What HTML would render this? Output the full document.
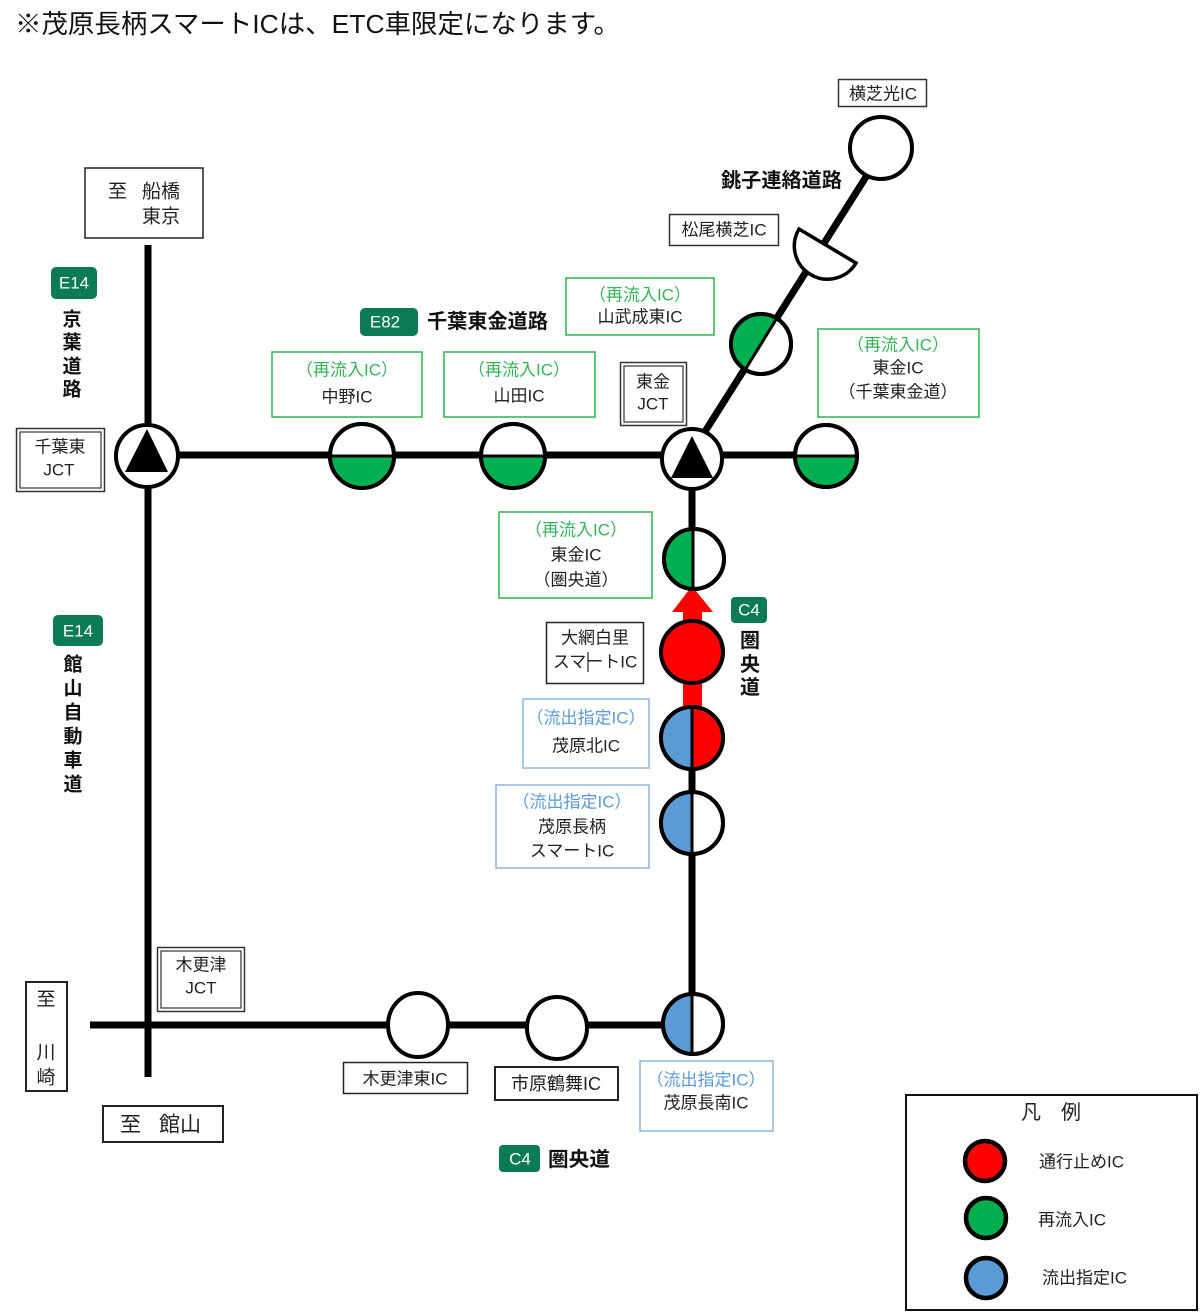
<!DOCTYPE html>
<html><head><meta charset="utf-8"><style>
html,body{margin:0;padding:0;background:#fff;}
svg{display:block;}
text{font-family:"Liberation Sans","Noto Sans CJK JP",sans-serif;}
</style></head><body>
<svg width="1200" height="1313" viewBox="0 0 1200 1313" xmlns="http://www.w3.org/2000/svg">
<rect width="1200" height="1313" fill="#fff"/>

<!-- header -->
<text x="15" y="24" font-size="26" dominant-baseline="central" fill="#111" textLength="605" lengthAdjust="spacingAndGlyphs">※茂原長柄スマートICは、ETC車限定になります。</text>

<!-- roads -->
<g stroke="#000" stroke-width="7" fill="none">
  <line x1="148" y1="245" x2="148" y2="1077"/>
  <line x1="148" y1="455" x2="826" y2="455"/>
  <line x1="692" y1="455" x2="692" y2="1025"/>
  <line x1="90" y1="1025" x2="692" y2="1025"/>
  <line x1="687" y1="460" x2="883" y2="150"/>
</g>

<!-- red arrow -->
<rect x="683" y="605" width="19" height="110" fill="#ff0000"/>
<polygon points="672,612 713,612 692,586" fill="#ff0000"/>

<!-- circles -->
<g stroke="#000" stroke-width="4">
  <circle cx="147" cy="456" r="31" fill="#fff"/>
  <circle cx="362" cy="456" r="32" fill="#fff"/>
  <circle cx="513" cy="456" r="32" fill="#fff"/>
  <circle cx="692" cy="459" r="30" fill="#fff"/>
  <circle cx="826" cy="456" r="31" fill="#fff"/>
  <circle cx="761" cy="344" r="30" fill="#fff"/>
  <circle cx="881" cy="148" r="31" fill="#fff"/>
  <circle cx="694" cy="559" r="30" fill="#fff"/>
  <circle cx="692" cy="652" r="31" fill="#ff0000"/>
  <circle cx="692" cy="738" r="31" fill="#fff"/>
  <circle cx="692" cy="823" r="31" fill="#fff"/>
  <ellipse cx="418" cy="1025" rx="30" ry="32" fill="#fff"/>
  <ellipse cx="557" cy="1028" rx="30" ry="31" fill="#fff"/>
  <ellipse cx="693" cy="1024" rx="30" ry="30" fill="#fff"/>
</g>

<!-- half fills -->
<g stroke="none">
  <path d="M332 456 A30 30 0 0 0 392 456 Z" fill="#00b050"/>
  <path d="M483 456 A30 30 0 0 0 543 456 Z" fill="#00b050"/>
  <path d="M796 456 A29 29 0 0 0 856 456 Z" fill="#00b050"/>
  <path d="M776.7 318.7 A29 29 0 0 0 745.3 369.3 Z" fill="#00b050"/>
  <path d="M693 531 A28 28 0 0 0 693 587 Z" fill="#00b050"/>
  <path d="M692 709 A29 29 0 0 0 692 767 Z" fill="#5b9bd5"/>
  <path d="M692 709 A29 29 0 0 1 692 767 Z" fill="#ff0000"/>
  <path d="M692 794 A29 29 0 0 0 692 852 Z" fill="#5b9bd5"/>
  <path d="M692 996 A28 28 0 0 0 692 1052 Z" fill="#5b9bd5"/>
</g>
<g stroke="#000" fill="none">
  <line x1="331" y1="456" x2="393" y2="456" stroke-width="3"/>
  <line x1="482" y1="456" x2="544" y2="456" stroke-width="3"/>
  <line x1="795" y1="456" x2="857" y2="456" stroke-width="3"/>
  <line x1="777" y1="318" x2="745" y2="370" stroke-width="3"/>
  <line x1="693" y1="529" x2="693" y2="589" stroke-width="3"/>
  <line x1="692" y1="707" x2="692" y2="769" stroke-width="3"/>
  <line x1="692" y1="792" x2="692" y2="854" stroke-width="3"/>
  <line x1="692" y1="994" x2="692" y2="1054" stroke-width="3"/>
  <circle cx="362" cy="456" r="32" stroke-width="4"/>
  <circle cx="513" cy="456" r="32" stroke-width="4"/>
  <circle cx="826" cy="456" r="31" stroke-width="4"/>
  <circle cx="761" cy="344" r="30" stroke-width="4"/>
  <circle cx="694" cy="559" r="30" stroke-width="4"/>
  <circle cx="692" cy="738" r="31" stroke-width="4"/>
  <circle cx="692" cy="823" r="31" stroke-width="4"/>
  <ellipse cx="693" cy="1024" rx="30" ry="30" stroke-width="4"/>
</g>

<!-- Matsuo Yokoshiba semicircle -->
<path d="M856 263 A33 33 0 0 1 799 229 Z" fill="#fff" stroke="#000" stroke-width="3.5"/>

<!-- JCT triangles -->
<polygon points="147,429 125,472 168,472" fill="#000"/>
<polygon points="692,436 671,478 713,478" fill="#000"/>

<!-- boxes -->
<g fill="none">
  <rect x="85" y="168" width="118" height="70" stroke="#222" stroke-width="1.5"/>
  <rect x="16.5" y="428.5" width="88" height="63" stroke="#333" stroke-width="1.5"/>
  <rect x="20" y="432" width="81" height="56" stroke="#333" stroke-width="1.2"/>
  <rect x="620.5" y="362.5" width="66" height="63" stroke="#333" stroke-width="1.5"/>
  <rect x="624" y="366" width="59" height="56" stroke="#333" stroke-width="1.2"/>
  <rect x="157.5" y="947.5" width="87" height="64" stroke="#333" stroke-width="1.5"/>
  <rect x="161" y="951" width="80" height="57" stroke="#333" stroke-width="1.2"/>
  <rect x="272" y="352" width="150" height="65" stroke="#2db34a" stroke-width="1.5"/>
  <rect x="444" y="352" width="151" height="65" stroke="#2db34a" stroke-width="1.5"/>
  <rect x="566" y="278" width="148" height="57" stroke="#2db34a" stroke-width="1.5"/>
  <rect x="818" y="329" width="161" height="88" stroke="#2db34a" stroke-width="1.5"/>
  <rect x="499" y="512" width="153" height="86" stroke="#2db34a" stroke-width="1.5"/>
  <rect x="523" y="699" width="126" height="69" stroke="#8db4e2" stroke-width="1.5"/>
  <rect x="496" y="785" width="153" height="83" stroke="#8db4e2" stroke-width="1.5"/>
  <rect x="640" y="1061" width="133" height="70" stroke="#8db4e2" stroke-width="1.5"/>
  <rect x="838.5" y="79.5" width="88" height="27" stroke="#333" stroke-width="1.5"/>
  <rect x="669.5" y="214.5" width="109" height="31" stroke="#333" stroke-width="1.5"/>
  <rect x="546.5" y="622.5" width="97" height="61" stroke="#222" stroke-width="1.5"/>
  <rect x="26" y="982" width="41" height="109" stroke="#222" stroke-width="2"/>
  <rect x="103" y="1106" width="120" height="36" stroke="#222" stroke-width="2"/>
  <rect x="343.5" y="1062.5" width="124" height="31" stroke="#222" stroke-width="1.5"/>
  <rect x="495" y="1067" width="123" height="33" stroke="#222" stroke-width="2"/>
  <rect x="906" y="1095" width="291" height="215" stroke="#111" stroke-width="2"/>
</g>

<!-- badges -->
<g fill="#0b7a57">
  <rect x="51" y="267" width="46" height="32" rx="5"/>
  <rect x="53" y="615" width="50" height="31" rx="5"/>
  <rect x="360" y="308" width="58" height="28" rx="5"/>
  <rect x="731" y="597" width="36" height="26" rx="4"/>
  <rect x="499" y="1145" width="41" height="27" rx="4"/>
</g>
<g fill="#fff" font-size="17" text-anchor="middle" dominant-baseline="central">
  <text x="74" y="283">E14</text>
  <text x="78" y="631">E14</text>
  <text x="385" y="322">E82</text>
  <text x="749" y="610">C4</text>
  <text x="520" y="1159">C4</text>
</g>

<!-- road name texts (bold) -->
<g fill="#111" font-weight="bold" dominant-baseline="central">
  <text x="427" y="322" font-size="20" textLength="121" lengthAdjust="spacingAndGlyphs">千葉東金道路</text>
  <text x="721" y="181" font-size="20" textLength="121" lengthAdjust="spacingAndGlyphs">銚子連絡道路</text>
  <text x="548" y="1160" font-size="20" textLength="62" lengthAdjust="spacingAndGlyphs">圏央道</text>
  <g text-anchor="middle" font-size="19">
    <text x="72" y="320">京</text>
    <text x="72" y="343">葉</text>
    <text x="72" y="367">道</text>
    <text x="72" y="390">路</text>
    <text x="73" y="665">館</text>
    <text x="73" y="689">山</text>
    <text x="73" y="713">自</text>
    <text x="73" y="737">動</text>
    <text x="73" y="761">車</text>
    <text x="73" y="785">道</text>
    <text x="750" y="641" font-size="20">圏</text>
    <text x="750" y="665" font-size="20">央</text>
    <text x="750" y="688" font-size="20">道</text>
  </g>
</g>

<!-- box labels -->
<g fill="#222" font-size="17" text-anchor="middle" dominant-baseline="central">
  <text x="108" y="192" font-size="19" text-anchor="start">至</text>
  <text x="142" y="192" font-size="19" text-anchor="start">船橋</text>
  <text x="142" y="217" font-size="19" text-anchor="start">東京</text>

  <text x="60" y="447">千葉東</text>
  <text x="59" y="470">JCT</text>

  <text x="653" y="382">東金</text>
  <text x="653" y="404">JCT</text>

  <text x="201" y="965">木更津</text>
  <text x="201" y="988">JCT</text>

  <text x="347" y="370" fill="#33b357">（再流入IC）</text>
  <text x="347" y="397">中野IC</text>

  <text x="519" y="370" fill="#33b357">（再流入IC）</text>
  <text x="519" y="396">山田IC</text>

  <text x="640" y="295" fill="#33b357">（再流入IC）</text>
  <text x="640" y="317">山武成東IC</text>

  <text x="898" y="345" fill="#33b357">（再流入IC）</text>
  <text x="898" y="368">東金IC</text>
  <text x="898" y="392">（千葉東金道）</text>

  <text x="576" y="530" fill="#33b357">（再流入IC）</text>
  <text x="576" y="555">東金IC</text>
  <text x="576" y="580">（圏央道）</text>

  <text x="883" y="94">横芝光IC</text>
  <text x="724" y="230">松尾横芝IC</text>

  <text x="595" y="638">大網白里</text>
  <text x="595" y="662">スマートIC</text>
  <line x1="588" y1="652" x2="588" y2="672" stroke="#222" stroke-width="1.2"/>

  <text x="586" y="718" fill="#5b9bd5">（流出指定IC）</text>
  <text x="586" y="746">茂原北IC</text>

  <text x="572" y="802" fill="#5b9bd5">（流出指定IC）</text>
  <text x="572" y="827">茂原長柄</text>
  <text x="572" y="851">スマートIC</text>

  <text x="706" y="1080" fill="#5b9bd5">（流出指定IC）</text>
  <text x="706" y="1103">茂原長南IC</text>

  <text x="405" y="1079">木更津東IC</text>
  <text x="556" y="1084" font-size="18">市原鶴舞IC</text>

  <text x="46" y="1000" font-size="19">至</text>
  <text x="46" y="1053" font-size="19">川</text>
  <text x="46" y="1078" font-size="19">崎</text>

  <text x="120" y="1125" font-size="21" text-anchor="start">至</text>
  <text x="159" y="1125" font-size="21" text-anchor="start">館山</text>
</g>

<!-- legend -->
<text x="1051" y="1113" font-size="20" text-anchor="middle" dominant-baseline="central" fill="#222">凡　例</text>
<g stroke="#000" stroke-width="4.5">
  <circle cx="985" cy="1161" r="20" fill="#ff0000"/>
  <circle cx="986" cy="1218" r="20" fill="#00b050"/>
  <circle cx="986" cy="1278" r="20" fill="#5b9bd5"/>
</g>
<g fill="#222" font-size="17" dominant-baseline="central">
  <text x="1039" y="1162">通行止めIC</text>
  <text x="1038" y="1220">再流入IC</text>
  <text x="1042" y="1278">流出指定IC</text>
</g>
</svg>
</body></html>
